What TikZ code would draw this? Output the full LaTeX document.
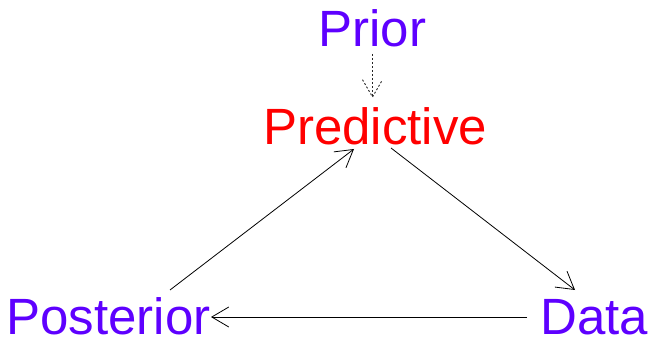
\documentclass[tikz,border=0pt]{standalone}
\usepackage{fontspec}
\setmainfont{Liberation Sans}
\usetikzlibrary{arrows.meta,calc}
\definecolor{purp}{RGB}{94,0,255}
\begin{document}
\begin{tikzpicture}[x=1pt,y=-1pt,
  lbl/.style={anchor=base,inner sep=0pt,font=\fontsize{51}{51}\selectfont},
  conn/.style={line width=0.8pt,-{Straight Barb[length=17pt,width=20pt]}},
  dotline/.style={line width=0.9pt,black!85,dash pattern=on 2pt off 2pt}]
\useasboundingbox (0,0) rectangle (648,339);
\node[lbl,text=purp] (prior) at (372.5,47) {Prior};
\node[lbl,text=red] (pred) at (375,145) {Predictive};
\node[lbl,text=purp] (post) at (108.5,334.5) {Posterior};
\node[lbl,text=purp] (data) at (594.5,334.5) {Data};
% dotted prior -> predictive
\coordinate (ds) at ($(prior.base)+(0,7)$);
\coordinate (dt) at ($(pred.base)+(-2.5,-48)$);
\draw[dotline] (ds) -- (dt);
\draw[dotline] ($(dt)+(-10,-17.3)$) -- (dt) -- ($(dt)+(10,-17.3)$);
% posterior -> predictive
\coordinate (a1) at ($(post.base)+(61.5,-44.5)$);
\coordinate (a2) at ($(pred.base)+(-21,4)$);
\draw[conn] (a1) -- (a2);
% predictive -> data
\coordinate (b1) at ($(pred.base)+(16,3)$);
\coordinate (b2) at ($(data.base)+(-19.5,-44.5)$);
\draw[conn] (b1) -- (b2);
% data -> posterior
\coordinate (c1) at ($(data.base)+(-67.5,-17.5)$);
\coordinate (c2) at ($(post.base)+(102.5,-17.5)$);
\draw[conn] (c1) -- (c2);
\end{tikzpicture}
\end{document}
